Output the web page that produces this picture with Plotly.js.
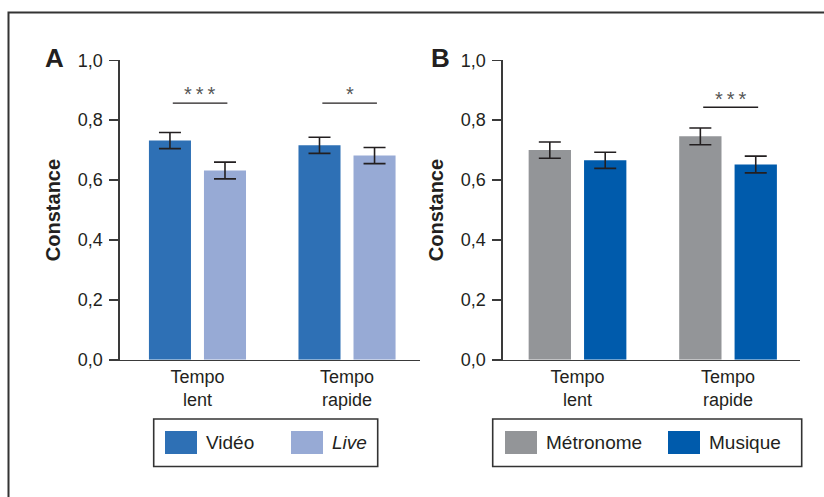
<!DOCTYPE html>
<html>
<head>
<meta charset="utf-8">
<script src="https://cdn.plot.ly/plotly-3.0.1.min.js"></script>
<style>html,body{margin:0;padding:0;background:#fff}#chart{width:824px;height:497px}</style>
</head>
<body>
<div id="chart"></div>
<script>
// ---- Data ----
const categories = ['Tempo<br>lent', 'Tempo<br>rapide'];
const yTickVals = [0, 0.2, 0.4, 0.6, 0.8, 1.0];
const yTickText = ['0,0', '0,2', '0,4', '0,6', '0,8', '1,0'];
const yAxisTitle = 'Constance';

// Panel A
const seriesA1Name = 'Vidéo';
const seriesA1 = [0.732, 0.716];
const seriesA1Err = [0.027, 0.027];
const seriesA2Name = '<i>Live</i>';
const seriesA2 = [0.632, 0.682];
const seriesA2Err = [0.028, 0.027];
const sigA = ['***', '*'];          // per category

// Panel B
const seriesB1Name = 'Métronome';
const seriesB1 = [0.700, 0.746];
const seriesB1Err = [0.027, 0.028];
const seriesB2Name = 'Musique';
const seriesB2 = [0.666, 0.652];
const seriesB2Err = [0.027, 0.028];
const sigB = ['', '***'];

// ---- Styles ----
const W = 824, H = 497;
const px = x => x / W;
const py = y => 1 - y / H;
const ink = '#231f20';
const colA1 = '#2e70b5', colA2 = '#97aad5';
const colB1 = '#939598', colB2 = '#005bac';
const FONT = 'Liberation Sans, Arial, sans-serif';

function barTrace(name, y, err, color, xa, ya) {
  return {
    type: 'bar', name: name, x: categories, y: y,
    xaxis: xa, yaxis: ya,
    marker: {color: color, line: {width: 0}},
    error_y: {type: 'data', array: err, visible: true, color: ink, thickness: 1.6, width: 11},
    showlegend: false, hoverinfo: 'skip'
  };
}

const data = [
  barTrace(seriesA1Name, seriesA1, seriesA1Err, colA1, 'x', 'y'),
  barTrace(seriesA2Name, seriesA2, seriesA2Err, colA2, 'x', 'y'),
  barTrace(seriesB1Name, seriesB1, seriesB1Err, colB1, 'x2', 'y2'),
  barTrace(seriesB2Name, seriesB2, seriesB2Err, colB2, 'x2', 'y2')
];

const yDom = [py(359.7), py(60.3)];
function yAxis(anchor) {
  return {
    domain: yDom, anchor: anchor, range: [0, 1.0], fixedrange: true,
    tickvals: yTickVals, ticktext: yTickText,
    ticks: 'outside', ticklen: 9, tickwidth: 1.6, tickcolor: '#3a3a3a',
    ticklabelstandoff: 3,
    showline: true, linecolor: '#3a3a3a', linewidth: 1.6,
    showgrid: false, zeroline: false,
    tickfont: {family: FONT, size: 18, color: ink},
    title: {text: yAxisTitle, font: {family: FONT, size: 20, color: ink, weight: 'bold'}, standoff: 12}
  };
}
function xAxis(anchor, dom, rng) {
  return {
    domain: dom, anchor: anchor, range: rng, fixedrange: true, type: 'category',
    showline: true, linecolor: '#3a3a3a', linewidth: 1.6, ticks: '',
    showgrid: false, zeroline: false,
    tickfont: {family: FONT, size: 18, color: ink}
  };
}

const shapes = [];
const annotations = [];

// outer frame (cropped at right and bottom)
shapes.push({type: 'rect', xref: 'paper', yref: 'paper', x0: px(8.5), x1: px(830), y0: py(12.5), y1: py(510),
  line: {color: '#333', width: 2}, fillcolor: 'rgba(0,0,0,0)', layer: 'below'});

// significance brackets
function sig(list, xa, ya, level) {
  list.forEach((lab, i) => {
    if (!lab) return;
    shapes.push({type: 'line', xref: xa, yref: ya, x0: i - 0.165, x1: i + 0.2, y0: level, y1: level,
      line: {color: ink, width: 1.4}});
    annotations.push({xref: xa, yref: ya, x: i + 0.018, y: level - 0.014, text: lab.split('').join('\u2009'),
      showarrow: false, xanchor: 'center', yanchor: 'bottom',
      font: {family: FONT, size: 20, color: '#555'}});
  });
}
sig(sigA, 'x', 'y', 0.857);
sig(sigB, 'x2', 'y2', 0.843);

// panel letters
annotations.push({xref: 'paper', yref: 'paper', x: px(54.5), y: py(58), xanchor: 'center', yanchor: 'middle',
  text: '<b>A</b>', showarrow: false, font: {family: FONT, size: 26, color: ink}});
annotations.push({xref: 'paper', yref: 'paper', x: px(440), y: py(58), xanchor: 'center', yanchor: 'middle',
  text: '<b>B</b>', showarrow: false, font: {family: FONT, size: 26, color: ink}});

// legends (boxes drawn from series names / colours)
function legend(x0, x1, items) {
  shapes.push({type: 'rect', xref: 'paper', yref: 'paper', x0: px(x0), x1: px(x1), y0: py(419), y1: py(466.5),
    line: {color: '#333', width: 1.6}, fillcolor: 'rgba(0,0,0,0)'});
  items.forEach(it => {
    shapes.push({type: 'rect', xref: 'paper', yref: 'paper', x0: px(it.sx), x1: px(it.sx + 32), y0: py(431), y1: py(454),
      line: {width: 0}, fillcolor: it.color});
    annotations.push({xref: 'paper', yref: 'paper', x: px(it.sx + 39), y: py(442.5), xanchor: 'left', yanchor: 'middle',
      text: it.name, showarrow: false, font: {family: FONT, size: 19, color: ink}});
  });
}
legend(153.7, 377.7, [{sx: 165, color: colA1, name: seriesA1Name}, {sx: 291, color: colA2, name: seriesA2Name}]);
legend(492.7, 801.7, [{sx: 505, color: colB1, name: seriesB1Name}, {sx: 668, color: colB2, name: seriesB2Name}]);

const layout = {
  width: W, height: H,
  margin: {l: 0, r: 0, t: 0, b: 0},
  paper_bgcolor: '#fff', plot_bgcolor: 'rgba(0,0,0,0)',
  barmode: 'group', bargap: 0.264, bargroupgap: 0.236,
  showlegend: false,
  xaxis: xAxis('y', [px(120), px(420)], [-0.518, 1.488]),
  yaxis: yAxis('x'),
  xaxis2: xAxis('y2', [px(503), px(800)], [-0.495, 1.478]),
  yaxis2: yAxis('x2'),
  shapes: shapes, annotations: annotations,
  font: {family: FONT, color: ink}
};

Plotly.newPlot('chart', data, layout, {staticPlot: true, displayModeBar: false});
</script>
</body>
</html>
